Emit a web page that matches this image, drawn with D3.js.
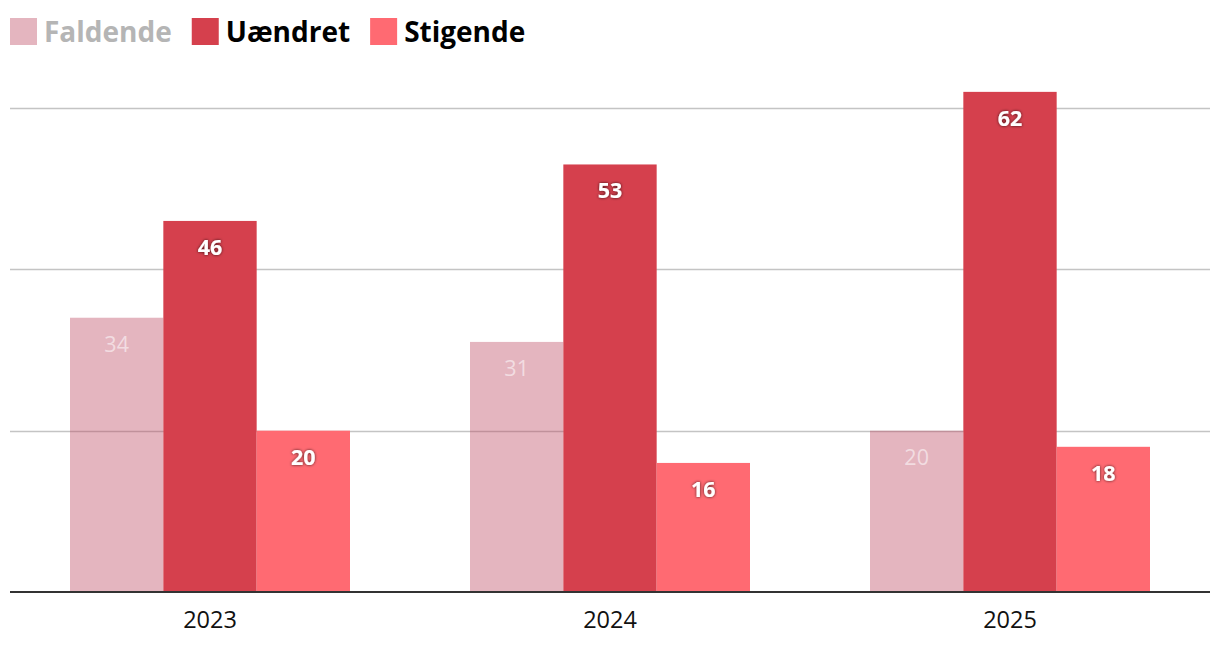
<!DOCTYPE html>
<html><head><meta charset="utf-8">
<script src="https://cdn.jsdelivr.net/npm/d3@7/dist/d3.min.js"></script>
<style>
body{margin:0;background:#fff;}
svg{display:block;font-family:"Open Sans",sans-serif;}
</style></head>
<body><svg id="c" width="1220" height="654"></svg>
<script>
const categories = ["2023","2024","2025"];
const seriesNames = ["Faldende","Uændret","Stigende"];
const faldende = [34,31,20];
const uaendret = [46,53,62];
const stigende = [20,16,18];
const yTicks = [0,20,40,60];

const seriesValues = [faldende, uaendret, stigende];
const colors = ["#bb4660","#d5404d","#ff6a72"];
const opac = [0.4,1,1];

const svg = d3.select("#c");
const defs = svg.append("defs");
const f = defs.append("filter").attr("id","sh").attr("x","-30%").attr("y","-30%").attr("width","160%").attr("height","160%");
f.append("feDropShadow").attr("dx",0).attr("dy",0).attr("stdDeviation",1.6).attr("flood-color","#000").attr("flood-opacity",0.75);

const x = d3.scaleBand().domain(categories).range([10,1210]).paddingInner(0.3).paddingOuter(0.15);
const xs = d3.scaleBand().domain(seriesNames).range([0,x.bandwidth()]);
const y = d3.scaleLinear().domain([0,60]).range([592,108]);

// gridlines
svg.append("g").selectAll("line").data(yTicks.filter(d=>d>0)).join("line")
  .attr("x1",10).attr("x2",1210).attr("y1",d=>Math.round(y(d))+0.5).attr("y2",d=>Math.round(y(d))+0.5)
  .attr("stroke","#c4c4c4").attr("stroke-width",1.5);

// bars
seriesNames.forEach((s,i)=>{
  const g = svg.append("g");
  g.selectAll("rect").data(categories).join("rect")
    .attr("x",c=>x(c)+xs(s)).attr("width",xs.bandwidth())
    .attr("y",(c,j)=>y(seriesValues[i][j])).attr("height",(c,j)=>y(0)-y(seriesValues[i][j]))
    .attr("fill",colors[i]).attr("fill-opacity",opac[i]);
});
// labels
seriesNames.forEach((s,i)=>{
  svg.append("g").selectAll("text").data(categories).join("text")
    .attr("x",c=>x(c)+xs(s)+xs.bandwidth()/2)
    .attr("y",(c,j)=>y(seriesValues[i][j])+34)
    .attr("text-anchor","middle")
    .attr("font-size",21.5)
    .attr("font-weight", i===0?400:700)
    .attr("fill","#fff")
    .attr("fill-opacity", i===0?0.55:1)
    .attr("filter", i===0?null:"url(#sh)")
    .text((c,j)=>seriesValues[i][j]);
});

// x axis
const xa = svg.append("g").attr("transform","translate(0,592)")
  .call(d3.axisBottom(x).tickSize(0));
xa.select(".domain").attr("stroke","#333").attr("stroke-width",2).attr("d","M10,0H1210");
xa.selectAll("text").attr("y",36).attr("dy",0).attr("font-size",23.5).attr("fill","#111").attr("font-family","'Open Sans',sans-serif");

// legend
const lg = svg.append("g");
let lx = 10;
seriesNames.forEach((s,i)=>{
  lg.append("rect").attr("x",lx).attr("y",18).attr("width",27).attr("height",27)
    .attr("fill",colors[i]).attr("fill-opacity",opac[i]);
  const t = lg.append("text").attr("x",lx+34).attr("y",42).attr("font-size",28).attr("font-weight",700)
    .attr("fill", i===0?"#b5b5b5":"#000").text(s);
  lx = lx + 34 + t.node().getComputedTextLength() + 20;
});
</script></body></html>
